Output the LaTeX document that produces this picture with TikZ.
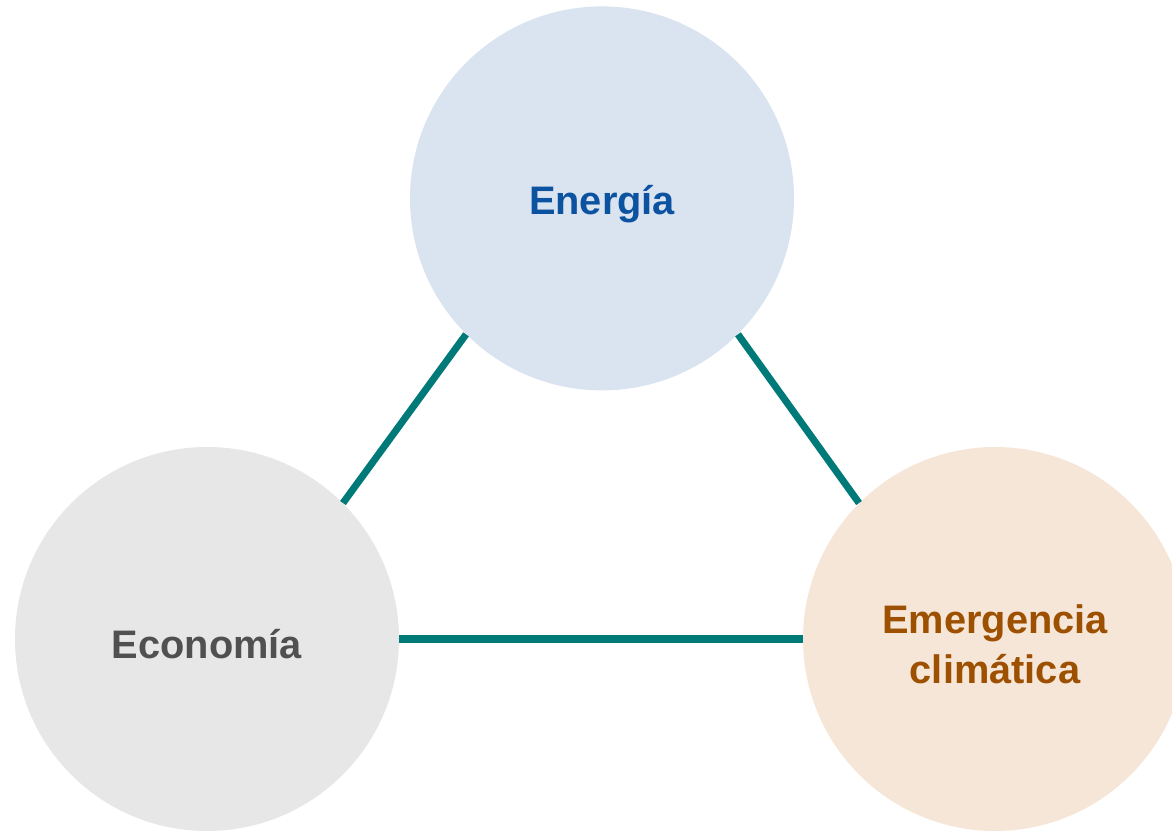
\documentclass[tikz,border=0pt]{standalone}
\usepackage{fontspec}
\setmainfont{Liberation Sans}
\usetikzlibrary{positioning}

\definecolor{energiafill}{HTML}{DAE3F0}
\definecolor{energiatext}{HTML}{0B53A0}
\definecolor{economiafill}{HTML}{E7E7E7}
\definecolor{economiatext}{HTML}{505050}
\definecolor{climafill}{HTML}{F6E6D8}
\definecolor{climatext}{HTML}{9C5000}
\definecolor{linkteal}{HTML}{007A78}

\tikzset{
    topic/.style={circle,minimum size=9.6cm,inner sep=0pt},
    topiclabel/.style={font=\fontsize{28.3}{35.5}\selectfont\bfseries,
                       align=center,yshift=-0.14cm}
}

\begin{document}
\begin{tikzpicture}
\clip (0,0) rectangle (29.3,20.75);
\useasboundingbox (0,0) rectangle (29.3,20.75);
\begin{scope}[every node/.style={topic}]
    \node[fill=energiafill,
          label={[topiclabel,text=energiatext]center:Energía}] (energia) at (15.05,15.79) {};
    \node[fill=economiafill,
          label={[topiclabel,text=economiatext]center:Economía}] (economia) at (5.175,4.775) {};
    \node[fill=climafill,
          label={[topiclabel,text=climatext]center:Emergencia\\climática}] (clima) at (24.875,4.775) {};
\end{scope}

\begin{scope}[every edge/.style={draw=linkteal,line width=5pt}]
    \path (energia.225) edge (economia.45);
    \path (energia.-45) edge (clima.135);
    \path (economia.east) edge (clima.west);
\end{scope}
\end{tikzpicture}
\end{document}
